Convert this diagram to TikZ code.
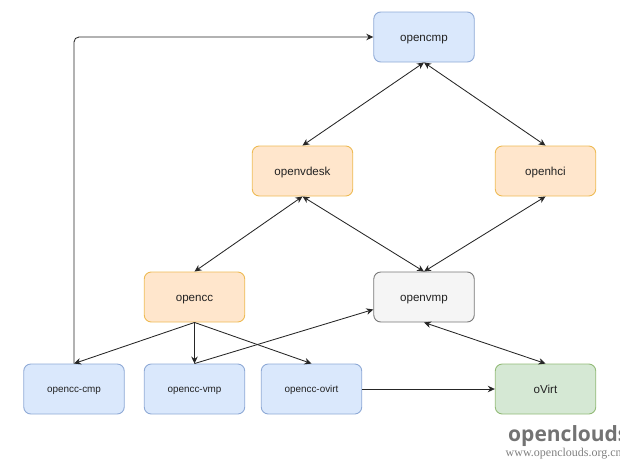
\documentclass[tikz,border=0pt]{standalone}
\usepackage{fontspec}
\setmainfont{Liberation Sans}
\newfontfamily\wmserif{Liberation Serif}
\newfontfamily\wmsans{Open Sans}
\usetikzlibrary{arrows.meta,calc}
\definecolor{bluefill}{HTML}{DAE8FC}
\definecolor{bluedraw}{HTML}{8FAAD6}
\definecolor{orfill}{HTML}{FFE6CC}
\definecolor{ordraw}{HTML}{EEBB55}
\definecolor{grfill}{HTML}{F5F5F5}
\definecolor{grdraw}{HTML}{777777}
\definecolor{gnfill}{HTML}{D5E8D4}
\definecolor{gndraw}{HTML}{93BB78}
\definecolor{txt}{HTML}{222222}
\tikzset{
  x=1pt,y=-1pt,
  box/.style={rounded corners=7pt,line width=0.9pt,minimum width=100.5pt,minimum height=50pt,inner sep=0pt,text=txt,text height=8pt,text depth=0pt,font=\fontsize{11.6}{14}\selectfont},
  small/.style={text depth=1pt,font=\fontsize{9.9}{12}\selectfont},
  blue box/.style={box,draw=bluedraw,fill=bluefill},
  orange box/.style={box,draw=ordraw,fill=orfill},
  gray box/.style={box,draw=grdraw,fill=grfill},
  green box/.style={box,draw=gndraw,fill=gnfill},
  link/.style={draw=black!85,line width=0.85pt,-{Stealth[length=7pt,width=6.5pt]}},
  both/.style={draw=black!85,line width=0.85pt,{Stealth[length=7pt,width=6.5pt]}-{Stealth[length=7pt,width=6.5pt]}},
}
\begin{document}
\begin{tikzpicture}
\useasboundingbox (0,0) rectangle (620,466);
\node[blue box] (opencmp) at (424,37) {opencmp};
\node[orange box] (openvdesk) at (302.5,171) {openvdesk};
\node[orange box] (openhci) at (545.5,171) {openhci};
\node[orange box] (opencc) at (194.5,297) {opencc};
\node[gray box] (openvmp) at (424,297) {openvmp};
\node[blue box,small] (cmp) at (74,389) {opencc-cmp};
\node[blue box,small] (vmp) at (194.5,389) {opencc-vmp};
\node[blue box,small] (ovirt) at (311.5,389) {opencc-ovirt};
\node[green box] (ovirtx) at (545.5,389) {oVirt};
\coordinate (vmpin) at ($(openvmp.west)+(0,12.5)$);
\draw[both] (opencmp.south) -- (openvdesk.north);
\draw[both] (opencmp.south) -- (openhci.north);
\draw[both] (openvdesk.south) -- (opencc.north);
\draw[both] (openvdesk.south) -- (openvmp.north);
\draw[both] (openhci.south) -- (openvmp.north);
\draw[both] (openvmp.south) -- (ovirtx.north);
\draw[link] (opencc.south) -- (cmp.north);
\draw[link] (opencc.south) -- (vmp.north);
\draw[link] (opencc.south) -- (ovirt.north);
\draw[link] (vmp.north) -- (vmpin);
\draw[link] (ovirt.east) -- (ovirtx.west);
\draw[link,rounded corners=5pt] (cmp.north) |- (opencmp.west);
\begin{scope}
\clip (0,0) rectangle (620,466);
\node[anchor=base west,inner sep=0pt,text=black!55,font=\wmsans\bfseries\fontsize{21}{24}\selectfont] (wm) at (508,441) {openclouds};
\node[anchor=base west,inner sep=0pt,text=black!50,font=\wmserif\fontsize{12}{14}\selectfont] (wmurl) at (505.5,456.5) {www.openclouds.org.cn};
\end{scope}
\end{tikzpicture}
\end{document}
